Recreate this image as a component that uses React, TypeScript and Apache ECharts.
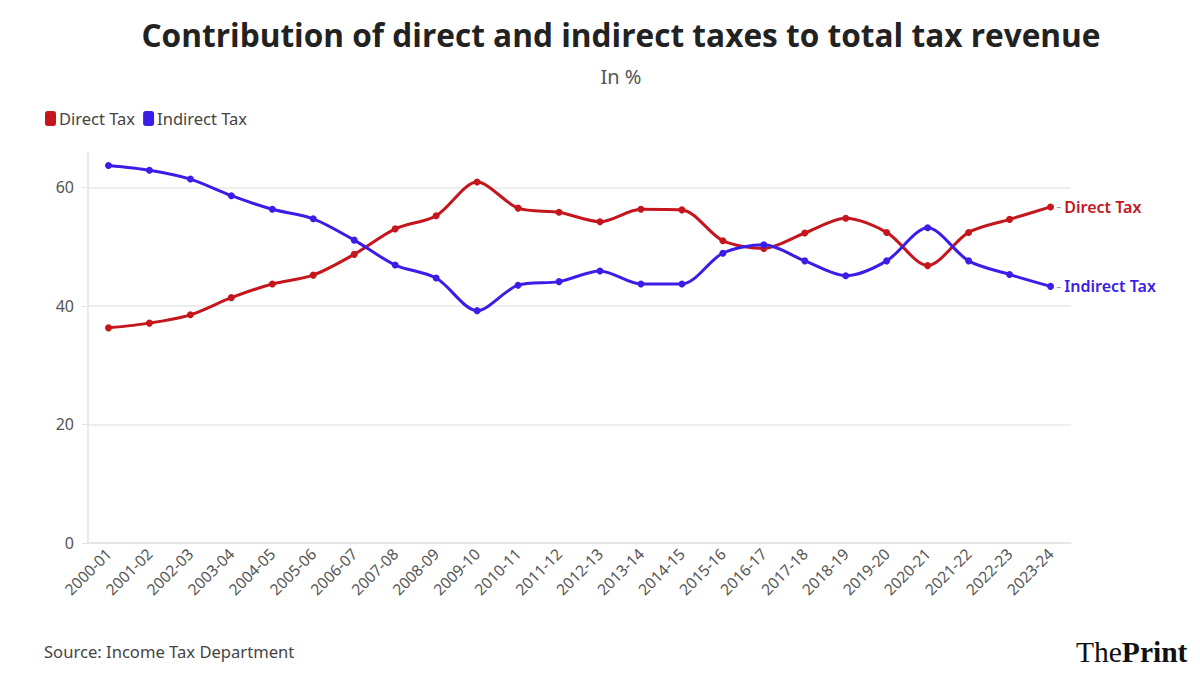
import React, { useEffect, useRef } from "react";
import * as echarts from "echarts";

const categories = [
  "2000-01", "2001-02", "2002-03", "2003-04", "2004-05", "2005-06", "2006-07", "2007-08",
  "2008-09", "2009-10", "2010-11", "2011-12", "2012-13", "2013-14", "2014-15", "2015-16",
  "2016-17", "2017-18", "2018-19", "2019-20", "2020-21", "2021-22", "2022-23", "2023-24",
];

const directTax = [
  36.3, 37.1, 38.5, 41.4, 43.7, 45.2, 48.7, 53.0, 55.2, 60.9, 56.5, 55.8,
  54.2, 56.3, 56.2, 51.0, 49.7, 52.3, 54.8, 52.4, 46.8, 52.4, 54.6, 56.7,
];

const indirectTax = [
  63.7, 62.9, 61.4, 58.6, 56.3, 54.7, 51.1, 46.9, 44.7, 39.2, 43.5, 44.1,
  45.9, 43.7, 43.7, 48.9, 50.3, 47.6, 45.1, 47.6, 53.2, 47.6, 45.3, 43.3,
];

const yTicks = [0, 20, 40, 60];

const RED = "#c4161c";
const BLUE = "#3a1ee8";
const FONT = "Noto Sans";

export default function App() {
  const ref = useRef<HTMLDivElement>(null);

  useEffect(() => {
    document.body.style.margin = "0";
    if (!ref.current) return;
    const chart = echarts.init(ref.current, undefined, { renderer: "svg" });
    const endLabel = (name: string, color: string) => ({
      show: true,
      distance: 6,
      formatter: `{d|-} {n|${name}}`,
      rich: {
        d: { color: "#999", fontSize: 14, fontFamily: FONT },
        n: { color, fontSize: 16, fontWeight: 600, fontFamily: FONT },
      },
    });
    chart.setOption({
      animation: false,
      backgroundColor: "#ffffff",
      title: [
        {
          text: "Contribution of direct and indirect taxes to total tax revenue",
          left: 616,
          textAlign: "center",
          top: 13,
          textStyle: { fontFamily: "Open Sans", fontWeight: 700, fontSize: 31.6, color: "#222" },
        },
        {
          text: "In %",
          left: 616,
          textAlign: "center",
          top: 61,
          textStyle: { fontFamily: FONT, fontWeight: 400, fontSize: 20, color: "#555" },
        },
      ],
      legend: {
        left: 40,
        top: 105,
        icon: "roundRect",
        itemWidth: 11,
        itemHeight: 15,
        itemGap: 8,
        textStyle: { fontFamily: FONT, fontSize: 16.5, color: "#444", padding: [0, 0, 0, -2] },
        data: ["Direct Tax", "Indirect Tax"],
      },
      grid: { left: 88, right: 129, top: 153, bottom: 132 },
      xAxis: {
        type: "category",
        data: categories,
        boundaryGap: true,
        axisLine: { lineStyle: { color: "#e3e3e3", width: 1.5 } },
        axisTick: { alignWithLabel: true, length: 6, lineStyle: { color: "#e3e3e3" } },
        axisLabel: {
          rotate: 45,
          interval: 0,
          fontFamily: FONT,
          fontSize: 15.5,
          color: "#555",
          margin: 8,
        },
      },
      yAxis: {
        type: "value",
        min: 0,
        max: 65.8,
        interval: 20,
        axisLine: { show: true, lineStyle: { color: "#e3e3e3", width: 1.5 } },
        axisTick: { show: true, length: 6, lineStyle: { color: "#e3e3e3" } },
        splitLine: {
          show: true,
          lineStyle: {
            color: [...yTicks.map(() => "#e8e8e8"), "rgba(0,0,0,0)"],
            width: 1.5,
          },
        },
        axisLabel: {
          fontFamily: FONT,
          fontSize: 16,
          color: "#555",
          margin: 14,
          showMaxLabel: false,
          formatter: (v: number) => (yTicks.includes(v) ? String(v) : ""),
        },
      },
      series: [
        {
          name: "Direct Tax",
          type: "line",
          data: directTax,
          smooth: 0.3,
          symbol: "circle",
          symbolSize: 7,
          color: RED,
          lineStyle: { width: 3, color: RED },
          itemStyle: { color: RED },
          endLabel: endLabel("Direct Tax", RED),
          z: 3,
        },
        {
          name: "Indirect Tax",
          type: "line",
          data: indirectTax,
          smooth: 0.3,
          symbol: "circle",
          symbolSize: 7,
          color: BLUE,
          lineStyle: { width: 3, color: BLUE },
          itemStyle: { color: BLUE },
          endLabel: endLabel("Indirect Tax", BLUE),
          z: 4,
        },
      ],
      graphic: [
        {
          type: "text",
          left: 44,
          top: 643,
          style: {
            text: "Source: Income Tax Department",
            fontFamily: FONT,
            fontSize: 16.6,
            fill: "#444",
          },
        },
        {
          type: "text",
          left: 1076,
          top: 637,
          style: {
            text: "{a|The}{b|Print}",
            rich: {
              a: { fontFamily: "Liberation Serif", fontSize: 29.5, fontWeight: 400, fill: "#111" },
              b: { fontFamily: "Liberation Serif", fontSize: 29.5, fontWeight: 700, fill: "#111" },
            },
          },
        },
      ],
    });
    return () => chart.dispose();
  }, []);

  return <div ref={ref} style={{ width: 1200, height: 675 }} />;
}
